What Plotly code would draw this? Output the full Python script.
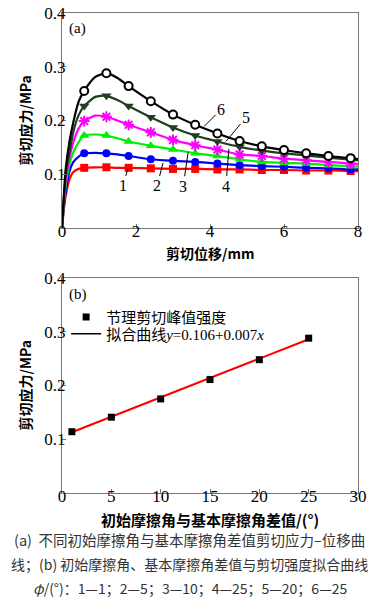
import numpy as np
import plotly.graph_objects as go

# ---------------- data (a) ----------------
disp = [0, 0.05, 0.1, 0.2, 0.3, 0.45, 0.6, 0.9, 1.2, 1.5, 1.8, 2.4, 3.0, 3.6,
        4.2, 4.8, 5.4, 6.0, 6.6, 7.2, 7.8, 8.0]
marker_disp = [0.6, 1.2, 1.8, 2.4, 3.0, 3.6, 4.2, 4.8, 5.4, 6.0, 6.6, 7.2, 7.8]

curve1 = [0, 0.035, 0.06, 0.09, 0.104, 0.110, 0.112, 0.113, 0.113, 0.112, 0.112, 0.111,
          0.110, 0.110, 0.109, 0.109, 0.108, 0.108, 0.107, 0.107, 0.106, 0.106]
curve2 = [0, 0.04, 0.068, 0.105, 0.122, 0.133, 0.139, 0.140, 0.139, 0.137, 0.134, 0.128,
          0.125, 0.123, 0.120, 0.117, 0.115, 0.114, 0.112, 0.111, 0.109, 0.109]
curve3 = [0, 0.045, 0.08, 0.118, 0.140, 0.160, 0.172, 0.174, 0.172, 0.167, 0.161, 0.153,
          0.146, 0.139, 0.134, 0.128, 0.123, 0.121, 0.120, 0.117, 0.115, 0.114]
curve4 = [0, 0.05, 0.09, 0.13, 0.158, 0.185, 0.199, 0.209, 0.207, 0.200, 0.192, 0.178,
          0.164, 0.154, 0.146, 0.137, 0.134, 0.129, 0.126, 0.123, 0.120, 0.119]
curve5 = [0, 0.055, 0.10, 0.14, 0.177, 0.210, 0.227, 0.244, 0.246, 0.238, 0.227, 0.206,
          0.187, 0.172, 0.161, 0.151, 0.144, 0.139, 0.135, 0.131, 0.127, 0.126]
curve6 = [0, 0.06, 0.11, 0.16, 0.195, 0.235, 0.255, 0.281, 0.288, 0.279, 0.264, 0.236,
          0.211, 0.192, 0.176, 0.162, 0.152, 0.145, 0.139, 0.134, 0.130, 0.128]
curve_labels = ["1", "2", "3", "4", "5", "6"]

# ---------------- data (b) ----------------
angle_diff = [1, 5, 10, 15, 20, 25]
peak_strength = [0.114, 0.141, 0.175, 0.211, 0.248, 0.288]
fit_x = [1, 25]
fit_y = [0.113, 0.286]

FONT = "Liberation Serif, Times New Roman, Noto Sans CJK SC, serif"
SERIF = "Liberation Serif"
CJK = "Noto Sans CJK SC, Liberation Serif, sans-serif"

fig = go.Figure()

styles = [
    dict(color="#ff0000", symbol="square", size=8, lc="#ff0000", lw=0),
    dict(color="#0000ff", symbol="circle", size=8, lc="#0000ff", lw=0),
    dict(color="#00ee00", symbol="triangle-up", size=9, lc="#00ee00", lw=0),
    dict(color="#ff00ff", symbol="asterisk-open", size=9, lc="#ff00ff", lw=2),
    dict(color="#1f3f1f", symbol="triangle-down", size=9, lc="#1f3f1f", lw=0),
    dict(color="#ffffff", symbol="circle", size=8, lc="#000000", lw=2),
]
line_colors = ["#ff0000", "#0000ff", "#00ee00", "#ff00ff", "#1f3f1f", "#000000"]
curves = [curve1, curve2, curve3, curve4, curve5, curve6]
d = np.array(disp)
mask = np.isin(np.round(d, 3), np.round(marker_disp, 3))

for c, st, lc in zip(curves, styles, line_colors):
    c = np.array(c)
    fig.add_trace(go.Scatter(x=d, y=c, mode="lines", line=dict(color=lc, width=2.2, shape="spline", smoothing=0.6),
                             showlegend=False, xaxis="x", yaxis="y", hoverinfo="skip"))
    fig.add_trace(go.Scatter(x=d[mask], y=c[mask], mode="markers",
                             marker=dict(color=st["color"], symbol=st["symbol"], size=st["size"],
                                         line=dict(color=st["lc"], width=st["lw"])),
                             showlegend=False, xaxis="x", yaxis="y"))

# (b)
fig.add_trace(go.Scatter(x=fit_x, y=fit_y, mode="lines", line=dict(color="#ff0000", width=2),
                         showlegend=False, xaxis="x2", yaxis="y2"))
fig.add_trace(go.Scatter(x=angle_diff, y=peak_strength, mode="markers",
                         marker=dict(color="#000000", symbol="square", size=7),
                         name="节理剪切峰值强度", xaxis="x2", yaxis="y2", legend="legend"))
fig.add_trace(go.Scatter(x=[None], y=[None], mode="lines", line=dict(color="#000000", width=1.5),
                         name="拟合曲线<i>y</i>=0.106+0.007<i>x</i>", xaxis="x2", yaxis="y2",
                         legend="legend2"))

axis_common = dict(showline=True, linecolor="#777777", linewidth=1, mirror=True,
                   ticks="inside", ticklen=4, tickcolor="#777777", showgrid=False, zeroline=False,
                   tickfont=dict(family=SERIF, size=17, color="#000000"))

leg_common = dict(xanchor="left", yanchor="middle", bgcolor="rgba(0,0,0,0)",
                  font=dict(family=FONT, size=15, color="#000000"))

fig.update_layout(
    width=379, height=603,
    margin=dict(l=62, r=21, t=4, b=110),
    paper_bgcolor="white", plot_bgcolor="white",
    xaxis=dict(domain=[0, 1], range=[0, 8], tickvals=[0, 2, 4, 6, 8], anchor="y",
               ticklabelstandoff=-12, **axis_common),
    yaxis=dict(domain=[0.552, 1], range=[0, 0.4], tickvals=[0.1, 0.2, 0.3, 0.4],
               ticktext=["0.1", "0.2", "0.3", "0.4"], anchor="x", ticklabelstandoff=-8, **axis_common),
    xaxis2=dict(domain=[0, 1], range=[0, 30], tickvals=[0, 5, 10, 15, 20, 25, 30], anchor="y2",
                ticklabelstandoff=-12, **axis_common),
    yaxis2=dict(domain=[0, 0.448], range=[0, 0.4], tickvals=[0.1, 0.2, 0.3, 0.4],
                ticktext=["0.1", "0.2", "0.3", "0.4"], anchor="x2", ticklabelstandoff=-8, **axis_common),
    legend=dict(x=0.014, y=0.366, **leg_common),
    legend2=dict(x=0.014, y=0.331, **leg_common),
    showlegend=True,
)

ann = []
def add_text(text, x, y, size, family=FONT, color="#000", xanchor="center", yanchor="middle", angle=0):
    ann.append(dict(text=text, x=x, y=y, xref="paper", yref="paper", xanchor=xanchor, yanchor=yanchor,
                    showarrow=False, textangle=angle, font=dict(family=family, size=size, color=color)))

# panel labels
add_text("(a)", 0.017, 0.99, 15, xanchor="left", yanchor="top")
add_text("(b)", 0.017, 0.436, 15, xanchor="left", yanchor="top")
# axis titles
add_text("<b>剪切位移/mm</b>", 0.5, 0.501, 14, family=CJK)
add_text("<b>剪切应力/MPa</b>", -0.125, 0.776, 14, family=CJK, angle=-90)
add_text("<b>剪切应力/MPa</b>", -0.125, 0.224, 14, family=CJK, angle=-90)
add_text("<b>初始摩擦角与基本摩擦角差值/(°)</b>", 0.5, -0.055, 15, family=CJK)
# curve labels with leader lines
label_pts = [(1.78, 0.110, -5, 17), (2.73, 0.121, -6, 23), (3.41, 0.141, -5, 34),
             (4.51, 0.147, -3, 37), (4.43, 0.161, 20, -24), (3.84, 0.189, 17, -17)]
for lab, (x, y, ax, ay) in zip(curve_labels, label_pts):
    ann.append(dict(text=lab, x=x, y=y, xref="x", yref="y", ax=ax, ay=ay, showarrow=True,
                    arrowhead=0, arrowwidth=1, arrowcolor="#000", standoff=0,
                    font=dict(family=SERIF, size=16, color="#000")))
# caption
add_text("(a)  不同初始摩擦角与基本摩擦角差值剪切应力–位移曲", 0.431, -0.096, 14.5, family=CJK, color="#333")
add_text("线；(b) 初始摩擦角、基本摩擦角差值与剪切强度拟合曲线", 0.431, -0.148, 14, family=CJK, color="#333")
add_text("<i>φ</i>/(°)：1—1；2—5；3—10；4—25；5—20；6—25", 0.431, -0.198, 14, family=CJK, color="#333")
fig.update_layout(annotations=ann)

fig.write_html("out.html", config={"displayModeBar": False},
               post_script="document.body.style.margin='0';document.body.style.overflow='hidden';")
